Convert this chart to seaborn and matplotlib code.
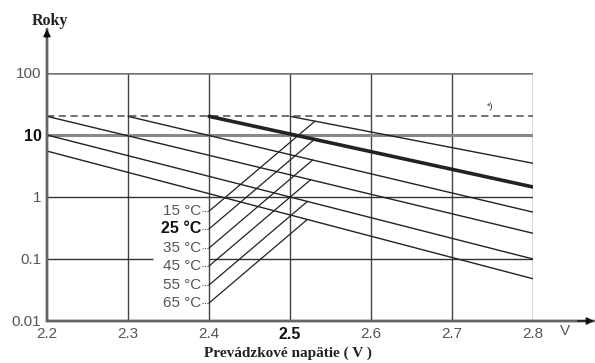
import numpy as np
import pandas as pd
import matplotlib
matplotlib.use("Agg")
import matplotlib.pyplot as plt
import seaborn as sns

# ---- data ----
temps = [15, 25, 35, 45, 55, 65]
temp_labels = ["15 °C", "25 °C", "35 °C", "45 °C", "55 °C", "65 °C"]
volt_start = [2.5, 2.4, 2.3, 2.2, 2.2, 2.2]
life_start = [20, 20, 20, 20, 10, 5.5]
volt_end = [2.8, 2.8, 2.8, 2.8, 2.8, 2.8]
life_end = [3.5, 1.45, 0.57, 0.26, 0.10, 0.048]
label_life = [0.59, 0.305, 0.15, 0.077, 0.038, 0.0195]
limit_life = 20
x_ticks = [2.2, 2.3, 2.4, 2.5, 2.6, 2.7, 2.8]
x_tick_labels = ["2.2", "2.3", "2.4", "2.5", "2.6", "2.7", "2.8"]
y_ticks = [0.01, 0.1, 1, 10, 100]
y_tick_labels = ["0.01", "0.1", "1", "10", "100"]

rows = []
for t, xs, ys, xe, ye in zip(temps, volt_start, life_start, volt_end, life_end):
    rows.append({"temp": t, "volt": xs, "life": ys})
    rows.append({"temp": t, "volt": xe, "life": ye})
df = pd.DataFrame(rows)

sns.set_style("white")
plt.rcParams['font.family'] = ['Liberation Sans', 'DejaVu Sans']

W, H = 595, 363
fig = plt.figure(figsize=(W / 100, H / 100), dpi=100)
ax = fig.add_axes([47 / W, 42 / H, (533 - 47) / W, (321 - 73) / H])

ax.set_yscale('log')
ax.set_xlim(2.2, 2.8)
ax.set_ylim(0.01, 100)

line_col = '#222222'

# grid
ax.vlines(x_ticks[1:], 0.01, 100, color='#444444', lw=1.0, zorder=1)
ax.hlines(100, 2.2, 2.8, color='#777777', lw=1.8, zorder=1)
ax.hlines(10, 2.2, 2.8, color='#888888', lw=2.2, zorder=1)
ax.hlines(1, 2.2, 2.8, color='#333333', lw=1.0, zorder=1)
ax.hlines(0.1, 2.2, 2.331, color='#333333', lw=1.0, zorder=1)
ax.hlines(0.1, 2.4, 2.8, color='#333333', lw=1.0, zorder=1)
ax.hlines(limit_life, 2.2, 2.8, color='#666666', lw=1.3, ls=(0, (4, 2.5)), zorder=2)
ax.text(2.747, 29, "*)", fontsize=6.5, ha='center', va='center', color='#333333')

# temperature lines
for t in temps:
    sub = df[df.temp == t]
    sns.lineplot(data=sub, x='volt', y='life', ax=ax, color=line_col,
                 lw=2.6 if t == 25 else 1.0, legend=False, zorder=3)

# leader lines + labels
k = 11.1  # leader slope in decades per volt
for t, lab, ll, xs, ys, xe, ye in zip(temps, temp_labels, label_life,
                                       volt_start, life_start, volt_end, life_end):
    m = (np.log10(ye) - np.log10(ys)) / (xe - xs)
    xi = (np.log10(ys) - m * xs - np.log10(ll) + k * 2.4) / (k - m)
    yi = 10 ** (np.log10(ll) + k * (xi - 2.4))
    ax.plot([2.4, xi], [ll, yi], color=line_col, lw=0.9, zorder=3)
    ax.plot([2.3915, 2.4], [ll, ll], color='#555555', lw=0.8, ls=(0, (1, 1.2)), zorder=3)
    bold = (t == 25)
    ax.text(2.391, ll, lab, ha='right', va='center', fontsize=11.5 if bold else 11,
            color='#111111' if bold else '#555555',
            fontweight='bold' if bold else 'normal')

# ticks
ax.set_xticks(x_ticks)
ax.set_xticklabels(x_tick_labels)
ax.set_yticks(y_ticks)
ax.set_yticklabels(y_tick_labels)
ax.yaxis.set_minor_locator(matplotlib.ticker.NullLocator())
ax.tick_params(axis='both', length=0, labelsize=11, colors='#555555')
ax.tick_params(axis='x', pad=4)
ax.tick_params(axis='y', pad=4)
for lbl in ax.get_xticklabels():
    if lbl.get_text() == "2.5":
        lbl.set_fontweight('bold'); lbl.set_color('#111111'); lbl.set_fontsize(11.5)
for lbl in ax.get_yticklabels():
    if lbl.get_text() == "10":
        lbl.set_fontweight('bold'); lbl.set_color('#111111'); lbl.set_fontsize(11.5)
ax.set_xlabel("")
ax.set_ylabel("")

for s in ax.spines.values():
    s.set_visible(False)

# axes arrows
for xy in [(0, 1 + (73 - 29) / 248), (1 + (594 - 533) / 486, 0)]:
    ax.annotate('', xy=xy, xytext=(0, 0), xycoords='axes fraction',
                arrowprops=dict(arrowstyle='-', color='#666666', lw=2.0,
                                shrinkA=0, shrinkB=0), zorder=5)
    ax.annotate('', xy=xy, xytext=(xy[0] * 0.97 if xy[1] == 0 else 0,
                                   xy[1] * 0.97 if xy[0] == 0 else 0),
                xycoords='axes fraction',
                arrowprops=dict(arrowstyle='-|>', color='#111111', lw=1.0,
                                mutation_scale=11, shrinkA=0, shrinkB=0), zorder=6)

fig.text(565 / W, 1 - 331 / H, "V", ha='center', va='center', fontsize=11, color='#555555')
fig.text(50 / W, 1 - 21 / H, "Roky", ha='center', va='center', fontsize=11.5,
         fontweight='bold', family=['Liberation Serif', 'DejaVu Serif'], color='#222222')
fig.text(288 / W, 1 - 353 / H, "Prevádzkové napätie ( V )", ha='center', va='center',
         fontsize=11, fontweight='bold', family=['Liberation Serif', 'DejaVu Serif'],
         color='#222222')

fig.savefig("out.png", dpi=100, facecolor='white')
